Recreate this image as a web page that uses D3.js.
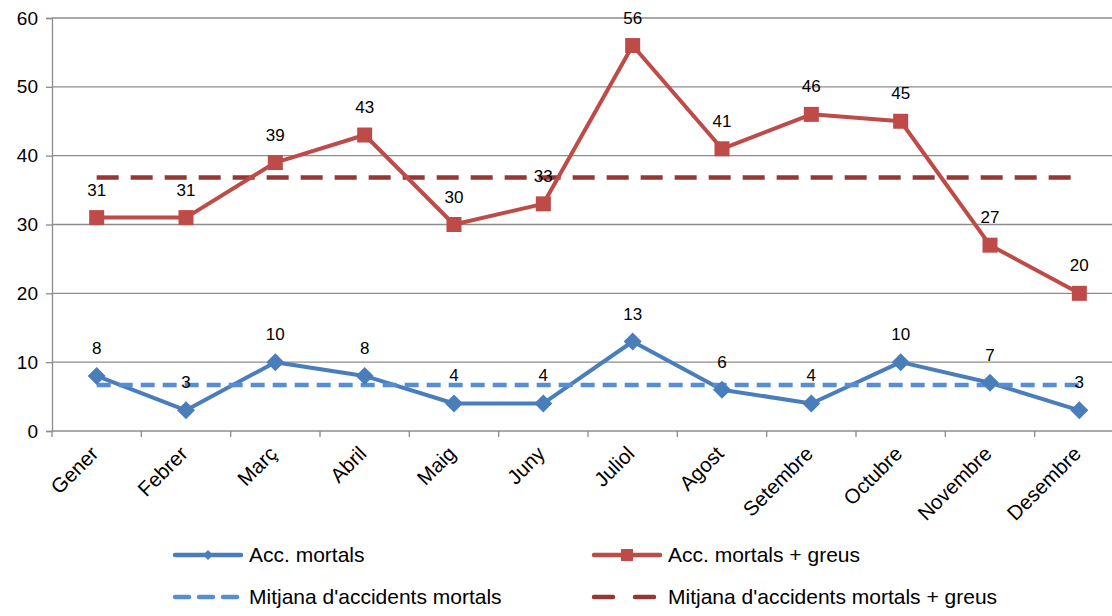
<!DOCTYPE html>
<html><head><meta charset="utf-8">
<script src="https://cdn.jsdelivr.net/npm/d3@7"></script>
<style>body{margin:0;background:#fff}svg{display:block;font-family:"Liberation Sans",Arial,sans-serif}</style>
</head><body><svg id="c" width="1112" height="616"></svg>
<script>
const months = ["Gener","Febrer","Març","Abril","Maig","Juny","Juliol","Agost","Setembre","Octubre","Novembre","Desembre"];
const mortals = [8,3,10,8,4,4,13,6,4,10,7,3];
const mortalsGreus = [31,31,39,43,30,33,56,41,46,45,27,20];
const yTicks = [0,10,20,30,40,50,60];
const seriesNames = ["Acc. mortals","Acc. mortals + greus","Mitjana d'accidents mortals","Mitjana d'accidents mortals + greus"];

const meanM = d3.mean(mortals), meanG = d3.mean(mortalsGreus);
const svg = d3.select("#c");
const L = 52, R = 1124, T = 18, B = 431;
const x = d3.scaleBand().domain(months).range([L, R]);
const y = d3.scaleLinear().domain([0, 60]).range([B, T]);
const cx = d => x(d) + x.bandwidth()/2;
const blue = "#4a7ebb", red = "#be4b48", lblue = "#558ed5", dred = "#953735";

// gridlines
svg.append("g").selectAll("line").data(yTicks.filter(d=>d>0)).join("line")
  .attr("x1", L).attr("x2", 1112).attr("y1", d=>y(d)).attr("y2", d=>y(d))
  .attr("stroke", "#8c8c8c").attr("stroke-width", 1.3);

// y axis
const ya = svg.append("g").attr("transform", `translate(${L},0)`).call(d3.axisLeft(y).tickValues(yTicks).tickSize(6).tickPadding(8));
ya.select(".domain").attr("stroke", "#8c8c8c").attr("stroke-width", 1.3);
ya.selectAll(".tick line").attr("stroke", "#8c8c8c").attr("stroke-width", 1.3);
ya.selectAll("text").attr("font-size", 19).attr("fill", "#000").attr("font-family", "Liberation Sans, Arial, sans-serif");

// x axis
const xa = svg.append("g").attr("transform", `translate(0,${B})`).call(d3.axisBottom(x).tickSize(0).tickFormat(""));
xa.select(".domain").attr("stroke", "#8c8c8c").attr("stroke-width", 1.3).attr("d", `M${L},0H1112`);
const bounds = months.map(m => x(m)).concat([R]);
xa.append("g").selectAll("line").data(bounds).join("line")
  .attr("x1", d=>d).attr("x2", d=>d).attr("y1", 0).attr("y2", 6)
  .attr("stroke", "#8c8c8c").attr("stroke-width", 1.3);
svg.append("g").selectAll("text").data(months).join("text")
  .attr("transform", d => `translate(${cx(d)+3},${B+24}) rotate(-45)`)
  .attr("text-anchor", "end").attr("font-size", 20.5).attr("fill", "#000").text(d=>d);

// mean lines
const meanLine = (v, color, dash, w) => svg.append("line")
  .attr("x1", cx(months[0])).attr("x2", cx(months[11]))
  .attr("y1", y(v)).attr("y2", y(v))
  .attr("stroke", color).attr("stroke-width", w).attr("stroke-dasharray", dash);
meanLine(meanG, dred, "22,12", 4.5);

const line = d3.line().x((d,i)=>cx(months[i])).y(d=>y(d));
// red series
svg.append("path").datum(mortalsGreus).attr("d", line).attr("fill","none").attr("stroke", red).attr("stroke-width", 4).attr("stroke-linejoin","round");
svg.append("g").selectAll("rect").data(mortalsGreus).join("rect")
  .attr("x",(d,i)=>cx(months[i])-7.5).attr("y",d=>y(d)-7.5).attr("width",15).attr("height",15).attr("fill", red);

// blue series
svg.append("path").datum(mortals).attr("d", line).attr("fill","none").attr("stroke", blue).attr("stroke-width", 4).attr("stroke-linejoin","round");
meanLine(meanM, lblue, "14,8", 4.5);
svg.append("g").selectAll("path.m").data(mortals).join("path")
  .attr("d", (d,i)=>{const px=cx(months[i]), py=y(d), r=9; return `M${px},${py-r}L${px+r},${py}L${px},${py+r}L${px-r},${py}Z`;})
  .attr("fill", blue);

// data labels
const labels = (data) => svg.append("g").selectAll("text").data(data).join("text")
  .attr("x",(d,i)=>cx(months[i])).attr("y", d=>y(d)-22)
  .attr("text-anchor","middle").attr("font-size",17).attr("fill","#000").text(d=>d);
labels(mortalsGreus);
labels(mortals);

// legend
const leg = [
  {name: seriesNames[0], x: 173, y: 555, color: blue, dash: null, marker: "diamond"},
  {name: seriesNames[1], x: 592, y: 555, color: red, dash: null, marker: "square"},
  {name: seriesNames[2], x: 173, y: 597, color: lblue, dash: "14,10", marker: null},
  {name: seriesNames[3], x: 592, y: 597, color: dred, dash: "19,22", marker: null}
];
const lg = svg.append("g");
leg.forEach(e => {
  const len = e.dash ? 64 : 68;
  lg.append("line").attr("x1", e.x+2).attr("x2", e.x+len).attr("y1", e.y).attr("y2", e.y)
    .attr("stroke", e.color).attr("stroke-width", 4.5).attr("stroke-linecap","round")
    .attr("stroke-dasharray", e.dash);
  if (e.marker === "diamond") lg.append("path").attr("d", `M${e.x+35},${e.y-5}L${e.x+40},${e.y}L${e.x+35},${e.y+5}L${e.x+30},${e.y}Z`).attr("fill", e.color);
  if (e.marker === "square") lg.append("rect").attr("x", e.x+29).attr("y", e.y-6).attr("width", 12).attr("height", 12).attr("fill", e.color);
  lg.append("text").attr("x", e.x + 76).attr("y", e.y + 7).attr("font-size", 21).attr("fill", "#000").text(e.name);
});
</script></body></html>
